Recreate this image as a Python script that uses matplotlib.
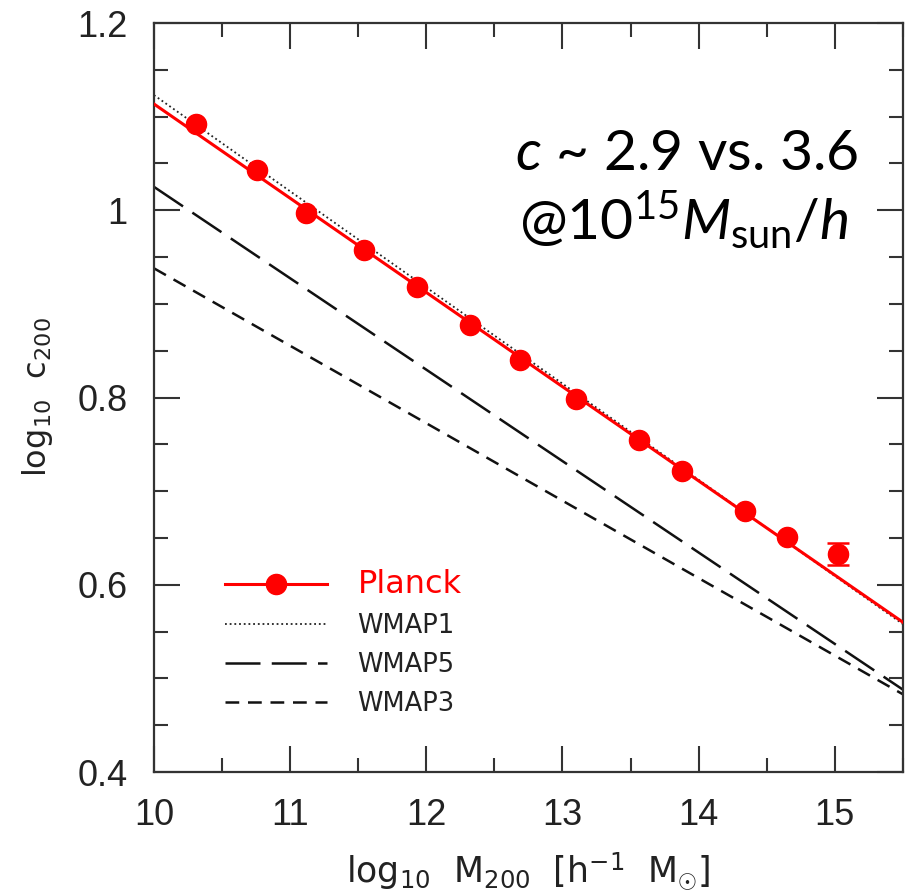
import matplotlib
matplotlib.use('Agg')
import matplotlib.pyplot as plt
from matplotlib.ticker import MultipleLocator, FormatStrFormatter

# Planck points (log10 M200, log10 c200) with errors
mass = [10.31, 10.76, 11.12, 11.54, 11.93, 12.32, 12.69, 13.10, 13.56, 13.88, 14.34, 14.65, 15.02]
conc = [1.092, 1.043, 0.997, 0.958, 0.918, 0.877, 0.840, 0.798, 0.755, 0.721, 0.679, 0.651, 0.633]
conc_err = [0.004, 0.004, 0.006, 0.004, 0.004, 0.004, 0.004, 0.004, 0.005, 0.005, 0.005, 0.006, 0.012]

# power-law fits, given at the two ends of the mass range
fit_x = [10.0, 15.5]
planck_fit = [1.1135, 0.560]
wmap1_fit = [1.123, 0.558]
wmap5_fit = [1.025, 0.488]
wmap3_fit = [0.938, 0.483]

plt.rcParams['mathtext.fontset'] = 'custom'
plt.rcParams['mathtext.rm'] = 'Lato'
plt.rcParams['mathtext.it'] = 'Lato:italic'

fig = plt.figure(figsize=(9.1, 8.92), dpi=100)
ax = fig.add_axes([0.1692, 0.1345, 0.823, 0.8397])

red = '#ff0000'
fit_line, = ax.plot(fit_x, planck_fit, color=red, lw=2.2, zorder=3)
w1, = ax.plot(fit_x, wmap1_fit, color='#222222', lw=1.3, ls=(0, (1, 1.6)), zorder=2)
w5, = ax.plot(fit_x, wmap5_fit, color='#111111', lw=1.8, ls=(0, (14, 4.5)), zorder=2)
w3, = ax.plot(fit_x, wmap3_fit, color='#111111', lw=1.8, ls=(0, (5.5, 3.5)), zorder=2)
eb = ax.errorbar(mass, conc, yerr=conc_err, fmt='o', color=red, ms=14.5,
                 capsize=8, elinewidth=1.8, capthick=1.8, zorder=4)
# caps only show where the bar sticks out of the marker (last point)
for cap in eb[1]:
    cap.set_markevery([len(mass) - 1])

ax.set_xlim(10, 15.5)
ax.set_ylim(0.4, 1.2)
ax.xaxis.set_major_locator(MultipleLocator(1))
ax.xaxis.set_minor_locator(MultipleLocator(0.5))
ax.yaxis.set_major_locator(MultipleLocator(0.2))
ax.yaxis.set_minor_locator(MultipleLocator(0.05))
ax.yaxis.set_major_formatter(FormatStrFormatter('%g'))
ax.tick_params(which='both', direction='in', top=True, right=True,
               width=1.5, color='#333333')
ax.tick_params(which='major', length=19, labelsize=26, pad=19,
               labelfontfamily='Liberation Sans', labelcolor='#222222')
ax.tick_params(which='minor', length=10)
for s in ax.spines.values():
    s.set_linewidth(1.6)
    s.set_color('#333333')

ax.set_xlabel(r'log$_{\mathregular{10}}$  M$_{\mathregular{200}}$  [h$^{\mathregular{-1}}$  M$_{\odot}$]',
              fontsize=25, family='DejaVu Sans', color='#222222', labelpad=12)
ax.set_ylabel(r'log$_{\mathregular{10}}$  c$_{\mathregular{200}}$',
              fontsize=23, family='DejaVu Sans', color='#222222', labelpad=16)

leg = ax.legend([(fit_line, eb.lines[0]), w1, w5, w3],
                ['Planck', 'WMAP1', 'WMAP5', 'WMAP3'],
                loc='upper left', bbox_to_anchor=(0.078, 0.288), frameon=False,
                handlelength=3.95, handletextpad=1.2, labelspacing=0.5,
                borderpad=0, prop={'family': 'DejaVu Sans', 'size': 18.5})
for t in leg.get_texts():
    t.set_color('#222222')
leg.get_texts()[0].set_color(red)
leg.get_texts()[0].set_fontsize(23)

fig.text(0.943, 0.8094, r'$\mathit{c}$ ~ 2.9 vs. 3.6', ha='right', va='baseline',
         fontsize=41, family='Lato')
fig.text(0.932, 0.7320, r'@10$^{\mathregular{15}}$$\mathit{M}_{\mathregular{sun}}$/$\mathit{h}$',
         ha='right', va='baseline', fontsize=41, family='Lato')

fig.savefig('out.png', dpi=100)
